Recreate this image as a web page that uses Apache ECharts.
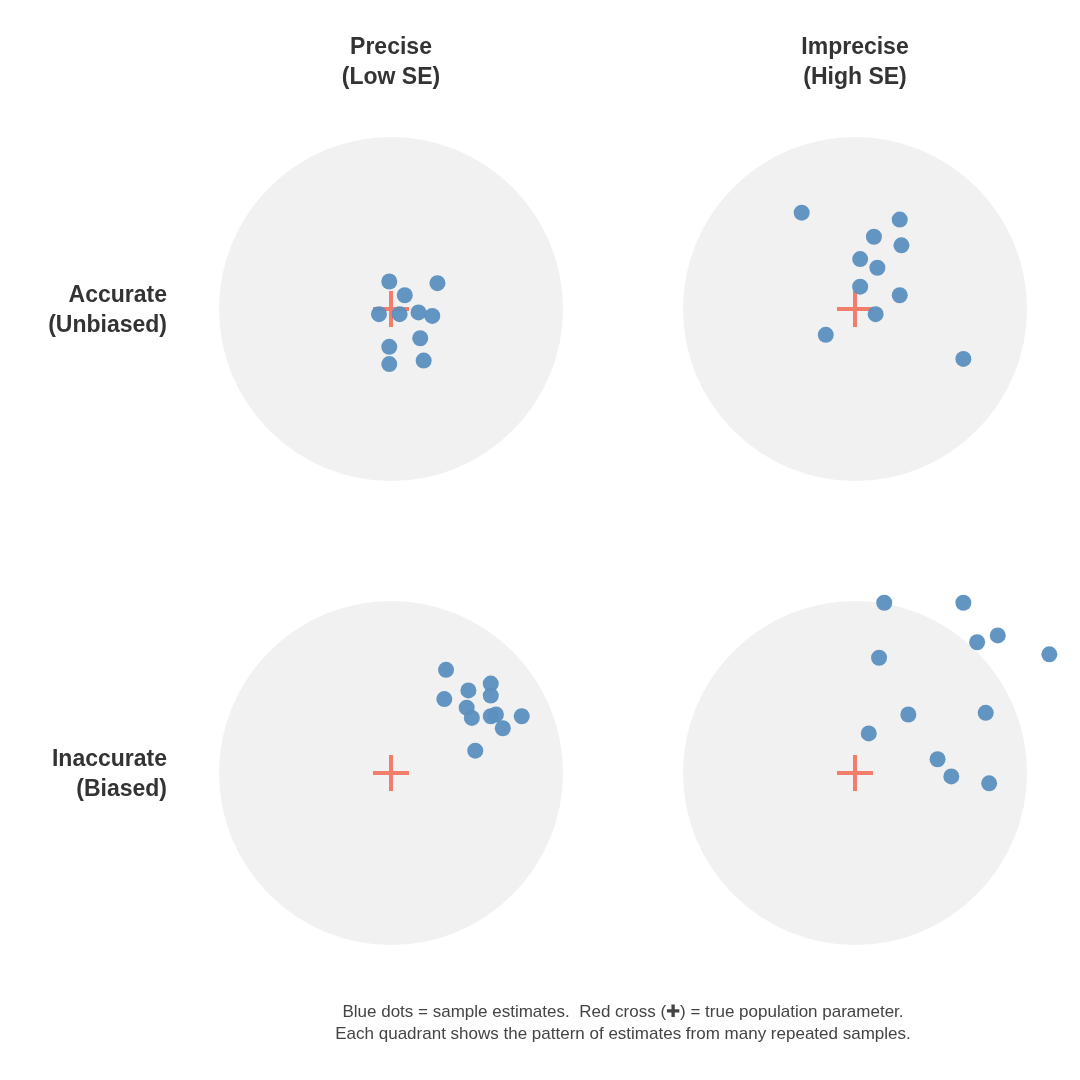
<!DOCTYPE html>
<html><head><meta charset="utf-8">
<script src="https://cdn.jsdelivr.net/npm/echarts@6/dist/echarts.min.js"></script>
<style>html,body{margin:0;background:#fff}#c{width:1080px;height:1080px}</style>
</head><body><div id="c"></div>
<script>
// dot positions in units of circle radius, relative to the true value
const accuratePrecise = [[-0.01,0.16],[0.08,0.08],[0.27,0.15],[-0.07,-0.03],[0.05,-0.03],[0.16,-0.02],[0.24,-0.04],[0.17,-0.17],[-0.01,-0.22],[-0.01,-0.32],[0.19,-0.30]];
const accurateImprecise = [[-0.31,0.56],[0.26,0.52],[0.11,0.42],[0.27,0.37],[0.03,0.29],[0.13,0.24],[0.03,0.13],[0.26,0.08],[0.12,-0.03],[-0.17,-0.15],[0.63,-0.29]];
const biasedPrecise = [[0.32,0.60],[0.31,0.43],[0.45,0.48],[0.58,0.52],[0.58,0.45],[0.44,0.38],[0.47,0.32],[0.58,0.33],[0.61,0.34],[0.76,0.33],[0.65,0.26],[0.49,0.13]];
const biasedImprecise = [[0.17,0.99],[0.63,0.99],[0.83,0.80],[0.71,0.76],[1.13,0.69],[0.14,0.67],[0.31,0.34],[0.76,0.35],[0.08,0.23],[0.48,0.08],[0.56,-0.02],[0.78,-0.06]];
const colLabels = ['Precise\n(Low SE)', 'Imprecise\n(High SE)'];
const rowLabels = ['Accurate\n(Unbiased)', 'Inaccurate\n(Biased)'];
const truth = [[0, 0]];

const quads = [accuratePrecise, accurateImprecise, biasedPrecise, biasedImprecise];
const centers = [[391,309],[855,309],[391,773],[855,773]];
const R = 172, half = 206;
const cross = 'path://M16,0h4v16h16v4h-16v16h-4v-16h-16v-4h16z';

const grid = [], xAxis = [], yAxis = [], series = [];
quads.forEach((pts, i) => {
  const [cx, cy] = centers[i];
  grid.push({left: cx - half, top: cy - half, width: 2 * half, height: 2 * half});
  const ax = {type: 'value', min: -half / R, max: half / R, gridIndex: i, show: false};
  xAxis.push(Object.assign({}, ax));
  yAxis.push(Object.assign({}, ax));
  const base = {type: 'scatter', xAxisIndex: i, yAxisIndex: i, silent: true, clip: false, animation: false};
  series.push(Object.assign({}, base, {data: truth, symbolSize: 2 * R, itemStyle: {color: '#eeeeee'}, z: 1}));
  series.push(Object.assign({}, base, {data: truth, symbol: cross, symbolSize: 36, itemStyle: {color: '#f2604a'}, z: 2}));
  series.push(Object.assign({}, base, {data: pts, symbolSize: 16, itemStyle: {color: '#5b8fbf', opacity: 0.95}, z: 3}));
});

const txt = {fontFamily: 'Liberation Sans, Arial', fontWeight: 'bold', fontSize: 23, fill: '#333', lineHeight: 30};
const graphic = [];
colLabels.forEach((t, i) => graphic.push({type: 'text', left: centers[i][0] - 100, top: 33, style: Object.assign({text: t, width: 200, align: 'center'}, txt), x: 0}));
graphic.length = 0;
colLabels.forEach((t, i) => graphic.push({type: 'text', x: centers[i][0], y: 33, style: Object.assign({text: t, align: 'center', verticalAlign: 'top'}, txt)}));
rowLabels.forEach((t, i) => graphic.push({type: 'text', x: 167, y: centers[i * 2][1] - 28, style: Object.assign({text: t, align: 'right', verticalAlign: 'top'}, txt)}));
graphic.push({type: 'text', x: 623, y: 1001, style: {text: 'Blue dots = sample estimates.  Red cross (\u271A) = true population parameter.\nEach quadrant shows the pattern of estimates from many repeated samples.', align: 'center', verticalAlign: 'top', fontFamily: 'Liberation Sans, Arial', fontSize: 17, fill: '#444', lineHeight: 22}});

const chart = echarts.init(document.getElementById('c'));
chart.setOption({backgroundColor: '#fff', grid, xAxis, yAxis, series, graphic});
</script></body></html>
